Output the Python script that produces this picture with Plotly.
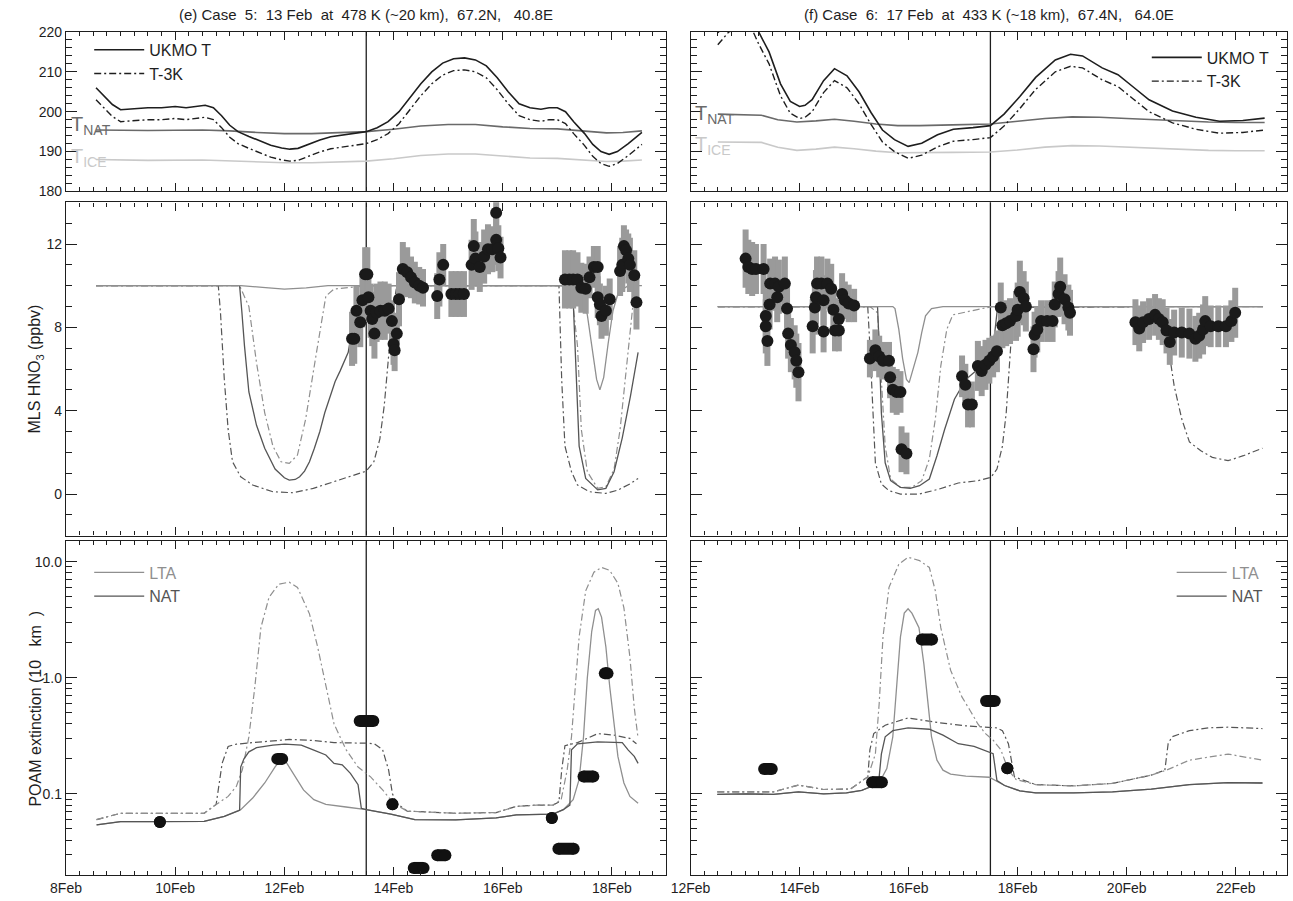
import plotly.graph_objects as go
from plotly.subplots import make_subplots

# ---------------- DATA ----------------
case_times = [13.5, 17.5]

# Case 5 temperatures (K)
t5_day = [8.55, 8.7, 8.85, 9.0, 9.25, 9.5, 9.75, 10.0, 10.2, 10.4, 10.55, 10.7, 10.85, 11.0, 11.15, 11.35,
          11.55, 11.75, 11.95, 12.1, 12.25, 12.45, 12.65, 12.85, 13.1, 13.3, 13.5, 13.7, 13.9, 14.1, 14.3,
          14.5, 14.7, 14.9, 15.1, 15.3, 15.5, 15.7, 15.9, 16.1, 16.3, 16.5, 16.7, 16.85, 17.0, 17.15, 17.3,
          17.5, 17.65, 17.8, 17.95, 18.1, 18.3, 18.55]
t5_ukmo = [206.0, 204.0, 201.8, 200.5, 200.8, 201.0, 201.0, 201.3, 201.0, 201.4, 201.6, 201.0, 199.0, 196.6,
           195.0, 193.8, 192.6, 191.6, 190.9, 190.6, 190.8, 191.8, 192.9, 193.7, 194.2, 194.5, 195.0, 196.0,
           197.5, 200.0, 203.5, 207.0, 210.0, 212.2, 213.3, 213.5, 213.0, 211.5, 208.5, 205.0, 202.0, 201.0,
           200.6, 201.0, 201.0, 200.0, 197.5, 194.5, 191.8, 190.0, 189.3, 190.0, 192.0, 194.8]
t5_m3k = [203.0, 201.0, 198.8, 197.5, 197.8, 198.0, 198.0, 198.3, 198.0, 198.4, 198.6, 198.0, 196.0, 193.6,
          192.0, 190.8, 189.6, 188.6, 187.9, 187.6, 187.8, 188.8, 189.9, 190.7, 191.2, 191.5, 192.0, 193.0,
          194.5, 197.0, 200.5, 204.0, 207.0, 209.2, 210.3, 210.5, 210.0, 208.5, 205.5, 202.0, 199.0, 198.0,
          197.6, 198.0, 198.0, 197.0, 194.5, 191.5, 188.8, 187.0, 186.3, 187.0, 189.0, 191.8]
tx5_day = [8.55, 9.5, 10.5, 11.0, 11.5, 12.0, 12.5, 13.0, 13.5, 14.0, 14.5, 15.0, 15.5, 16.0, 16.5, 17.0,
           17.5, 17.9, 18.2, 18.55]
tnat5 = [195.4, 195.3, 195.4, 195.2, 194.8, 194.5, 194.5, 194.7, 195.0, 195.6, 196.4, 196.8, 196.8, 196.2,
         195.8, 195.7, 195.2, 194.7, 194.8, 195.2]
tice5 = [188.0, 187.8, 187.9, 187.7, 187.4, 187.2, 187.2, 187.4, 187.6, 188.2, 189.0, 189.4, 189.4, 188.9,
         188.4, 188.3, 187.9, 187.5, 187.6, 187.9]

# Case 6 temperatures (K)
t6_day = [12.5, 12.7, 12.95, 13.15, 13.25, 13.44, 13.65, 13.83, 14.0, 14.1, 14.23, 14.44, 14.64, 14.87,
          15.09, 15.31, 15.52, 15.74, 15.99, 16.24, 16.53, 16.82, 17.18, 17.5, 17.75, 18.04, 18.33, 18.69,
          18.97, 19.19, 19.55, 19.84, 20.12, 20.41, 20.84, 21.27, 21.7, 22.13, 22.53]
t6_ukmo = [219.8, 223.0, 224.5, 223.0, 220.0, 215.0, 207.0, 202.6, 201.3, 201.6, 203.0, 207.8, 210.8, 209.0,
           205.0, 199.8, 195.4, 193.0, 191.3, 192.1, 194.2, 195.6, 196.0, 196.5, 199.4, 203.8, 208.6, 213.0,
           214.4, 214.0, 211.0, 209.3, 206.2, 203.0, 200.2, 198.6, 197.6, 197.8, 198.4]
t6_m3k = [216.8, 220.0, 221.5, 220.0, 217.0, 212.0, 204.0, 199.6, 198.3, 198.6, 200.0, 204.8, 207.8, 206.0,
          202.0, 196.8, 192.4, 190.0, 188.3, 189.1, 191.2, 192.6, 193.0, 193.5, 196.4, 200.8, 205.6, 210.0,
          211.4, 211.0, 208.0, 206.3, 203.2, 200.0, 197.2, 195.6, 194.6, 194.8, 195.4]
tx6_day = [12.5, 13.0, 13.3, 13.6, 13.95, 14.3, 14.64, 15.0, 15.4, 15.8, 16.2, 16.8, 17.5, 18.0, 18.5, 19.0,
           19.5, 20.0, 20.5, 21.0, 21.5, 22.0, 22.53]
tnat6 = [199.4, 199.3, 199.1, 198.0, 197.4, 197.7, 198.1, 197.6, 196.9, 196.5, 196.5, 196.7, 196.9, 197.6,
         198.3, 198.7, 198.6, 198.3, 198.0, 197.6, 197.4, 197.3, 197.3]
tice6 = [192.4, 192.4, 192.3, 191.1, 190.3, 190.6, 191.1, 190.7, 190.1, 189.7, 189.7, 189.8, 189.9, 190.4,
         191.1, 191.5, 191.4, 191.1, 190.8, 190.5, 190.3, 190.2, 190.2]

# Case 5 model gas-phase HNO3 (ppbv)
hl5_day = [8.55, 11.2, 11.6, 12.0, 12.4, 12.8, 17.3, 17.45, 17.55, 17.65, 17.72, 17.78, 17.85, 17.93, 18.02,
           18.12, 18.3, 18.55]
hl5 = [10.0, 10.0, 9.92, 9.84, 9.9, 10.0, 10.0, 9.6, 8.6, 6.8, 5.5, 5.0, 5.6, 7.2, 8.8, 9.7, 10.0, 10.0]
hn5_day = [8.55, 11.18, 11.22, 11.27, 11.35, 11.49, 11.64, 11.83, 12.0, 12.09, 12.2, 12.28, 12.37, 12.46,
           12.55, 12.65, 12.74, 12.83, 12.93, 13.02, 13.17, 13.24, 13.35, 13.49, 13.6, 17.28, 17.31, 17.35,
           17.4, 17.52, 17.74, 17.89, 18.04, 18.19, 18.34, 18.48]
hn5 = [10.0, 10.0, 8.8, 7.1, 4.9, 3.3, 2.2, 1.2, 0.78, 0.67, 0.7, 0.83, 1.1, 1.55, 2.2, 3.0, 3.9, 4.6, 5.4,
       5.9, 6.8, 7.9, 9.0, 9.8, 10.0, 10.0, 8.0, 5.5, 2.3, 0.75, 0.2, 0.27, 1.07, 2.7, 4.7, 6.8]
hl5m_day = [8.55, 11.18, 11.35, 11.49, 11.64, 11.79, 11.94, 12.09, 12.24, 12.39, 12.57, 12.76, 12.91, 13.28,
            13.5, 17.25, 17.37, 17.44, 17.55, 17.74, 17.89, 18.04, 18.15, 18.26, 18.35, 18.41, 18.45, 18.55]
hl5m = [10.0, 10.0, 9.0, 6.3, 3.9, 2.3, 1.55, 1.47, 1.87, 3.6, 6.5, 9.5, 9.84, 9.92, 10.0, 10.0, 7.1, 3.1,
        1.07, 0.27, 0.35, 1.2, 3.1, 5.9, 8.4, 9.7, 10.0, 10.0]
hn5m_day = [8.55, 10.79, 10.83, 10.9, 10.97, 11.05, 11.2, 11.42, 11.79, 12.16, 12.53, 12.91, 13.28, 13.5,
            13.64, 13.75, 13.83, 13.9, 13.98, 14.05, 14.1, 17.03, 17.08, 17.14, 17.26, 17.37, 17.59, 17.89,
            18.11, 18.34, 18.48]
hn5m = [10.0, 10.0, 8.7, 5.5, 3.1, 1.55, 0.83, 0.43, 0.11, 0.06, 0.27, 0.6, 0.9, 1.1, 1.55, 2.65, 4.25, 6.2,
        8.7, 9.84, 10.0, 10.0, 5.5, 2.3, 1.07, 0.43, 0.11, 0.03, 0.19, 0.5, 0.75]

# Case 6 model gas-phase HNO3 (ppbv)
hl6_day = [12.5, 15.71, 15.75, 15.82, 15.89, 15.96, 16.01, 16.06, 16.17, 16.24, 16.31, 16.42, 16.63, 22.5]
hl6 = [9.0, 9.0, 8.9, 7.9, 6.5, 5.5, 5.35, 5.8, 6.8, 7.75, 8.55, 8.9, 9.0, 9.0]
hn6_day = [12.5, 15.43, 15.46, 15.5, 15.57, 15.67, 15.85, 16.03, 16.2, 16.38, 16.52, 16.66, 16.84, 17.05,
           17.34, 17.51, 17.58, 17.62, 17.65, 22.5]
hn6 = [9.0, 9.0, 7.1, 3.9, 1.5, 0.64, 0.32, 0.27, 0.4, 0.72, 1.84, 3.1, 4.55, 5.5, 6.15, 6.8, 7.75, 8.7, 9.0,
       9.0]
hl6m_day = [12.5, 15.29, 15.43, 15.5, 15.57, 15.67, 15.85, 16.06, 16.24, 16.38, 16.49, 16.59, 16.7, 16.81,
            17.05, 17.34, 17.55, 22.5]
hl6m = [9.0, 9.0, 8.7, 5.5, 2.3, 0.72, 0.32, 0.32, 0.64, 1.68, 3.6, 6.15, 7.9, 8.6, 8.75, 8.9, 9.0, 9.0]
hn6m_day = [12.5, 15.25, 15.29, 15.34, 15.39, 15.5, 15.64, 15.85, 16.2, 16.56, 16.91, 17.27, 17.51, 17.62,
            17.72, 17.79, 17.85, 17.89, 17.92, 20.69, 20.76, 20.87, 21.01, 21.15, 21.36, 21.57, 21.86, 22.14,
            22.49]
hn6m = [9.0, 9.0, 7.1, 3.9, 1.5, 0.48, 0.16, 0.0, 0.0, 0.24, 0.53, 0.64, 0.8, 1.2, 2.3, 3.9, 6.3, 8.2, 8.95,
        9.0, 7.1, 5.2, 3.6, 2.5, 2.08, 1.76, 1.6, 1.84, 2.2]

# MLS HNO3 observations, case 5
mls5_day = [13.24, 13.28, 13.32, 13.39, 13.43, 13.48, 13.52, 13.54, 13.58, 13.61, 13.65, 13.69, 13.76, 13.84,
            13.91, 13.97, 14.0, 14.02, 14.06, 14.1, 14.17, 14.25, 14.32, 14.39, 14.47, 14.54, 14.8, 14.84,
            14.91, 15.06, 15.14, 15.21, 15.29, 15.43, 15.47, 15.5, 15.58, 15.66, 15.73, 15.81, 15.88, 15.88,
            15.92, 15.96, 17.14, 17.22, 17.29, 17.37, 17.44, 17.52, 17.59, 17.67, 17.74, 17.74, 17.78, 17.81,
            17.89, 17.96, 18.15, 18.19, 18.22, 18.26, 18.3, 18.33, 18.41, 18.45]
mls5 = [7.45, 7.45, 8.8, 8.25, 9.3, 10.55, 10.55, 9.45, 8.8, 8.4, 7.7, 8.7, 8.8, 8.8, 8.9, 8.3, 7.2, 6.9, 7.7,
        9.35, 10.8, 10.65, 10.4, 10.15, 10.0, 9.9, 9.5, 10.3, 11.0, 9.6, 9.6, 9.6, 9.6, 11.0, 11.9, 11.3, 10.9,
        11.4, 11.75, 11.75, 13.5, 12.2, 11.8, 11.35, 10.3, 10.3, 10.3, 10.3, 9.9, 9.85, 10.4, 10.9, 10.9, 9.45,
        9.1, 8.55, 8.8, 9.35, 10.7, 11.0, 11.9, 11.7, 11.3, 11.0, 10.5, 9.2]
mls5_err = [1.3, 1.2, 1.2, 1.2, 1.3, 1.3, 1.3, 1.2, 1.3, 1.3, 1.2, 1.4, 1.4, 1.4, 1.2, 1.0, 1.0, 1.0, 1.0,
            1.3, 1.3, 1.2, 1.0, 1.0, 0.9, 0.9, 1.1, 1.3, 1.0, 1.1, 1.1, 1.1, 1.1, 1.2, 1.3, 1.3, 1.2, 1.3,
            1.2, 1.1, 1.0, 1.2, 1.1, 1.0, 1.4, 1.4, 1.4, 1.3, 1.2, 1.2, 1.0, 1.0, 1.0, 1.0, 1.0, 1.1, 1.2,
            1.0, 1.2, 1.3, 1.0, 1.0, 1.2, 1.3, 1.2, 1.3]

# MLS HNO3 observations, case 6
mls6_day = [13.01, 13.06, 13.13, 13.2, 13.34, 13.38, 13.38, 13.41, 13.45, 13.46, 13.55, 13.59, 13.62, 13.73,
            13.77, 13.79, 13.84, 13.91, 13.94, 13.98, 14.24, 14.28, 14.3, 14.32, 14.4, 14.51, 14.44, 14.44,
            14.58, 14.62, 14.65, 14.72, 14.72, 14.78, 14.83, 14.9, 15.0, 15.29, 15.39, 15.46, 15.53, 15.64,
            15.66, 15.71, 15.78, 15.85, 15.87, 15.96, 16.98, 17.04, 17.09, 17.16, 17.27, 17.34, 17.41, 17.48,
            17.55, 17.62, 17.69, 17.72, 17.79, 17.86, 17.97, 18.0, 18.04, 18.11, 18.15, 18.29, 18.31, 18.36,
            18.43, 18.54, 18.64, 18.68, 18.75, 18.78, 18.86, 18.93, 18.96, 20.16, 20.23, 20.3, 20.41, 20.52,
            20.59, 20.66, 20.73, 20.79, 20.87, 21.01, 21.15, 21.26, 21.33, 21.4, 21.44, 21.54, 21.68, 21.82,
            21.92, 21.99]
mls6 = [11.3, 10.9, 10.8, 10.8, 10.8, 8.55, 8.05, 7.35, 9.1, 10.1, 10.1, 9.45, 9.95, 10.1, 8.9, 7.7, 7.15,
        6.8, 6.4, 5.85, 8.05, 8.95, 9.45, 10.1, 10.1, 10.1, 9.3, 7.8, 9.85, 8.85, 7.85, 7.85, 8.4, 9.6, 9.3,
        9.15, 9.05, 6.5, 6.9, 6.6, 6.4, 6.4, 5.6, 5.0, 4.9, 4.9, 2.15, 1.95, 5.65, 5.25, 4.3, 4.3, 6.15, 5.9,
        6.2, 6.4, 6.6, 6.85, 8.95, 8.1, 8.2, 8.3, 8.55, 8.85, 9.7, 9.4, 9.0, 6.95, 7.65, 7.9, 8.3, 8.3, 8.3,
        9.1, 9.6, 9.95, 9.35, 8.95, 8.7, 8.25, 7.95, 8.25, 8.4, 8.6, 8.4, 8.25, 7.85, 7.3, 7.75, 7.75, 7.7,
        7.45, 7.6, 7.9, 8.3, 8.05, 8.05, 8.05, 8.3, 8.7]
mls6_err = [1.4, 1.3, 1.3, 1.2, 1.2, 1.3, 1.3, 1.2, 1.2, 1.2, 1.3, 1.2, 1.3, 1.3, 1.2, 1.2, 1.3, 1.3, 1.3,
            1.4, 1.3, 1.3, 1.3, 1.3, 1.3, 1.2, 1.2, 1.0, 1.2, 1.2, 1.0, 1.0, 1.0, 1.0, 0.9, 0.9, 0.8, 0.9,
            1.0, 1.0, 0.9, 0.9, 1.0, 1.1, 1.1, 1.0, 1.1, 1.0, 1.0, 1.0, 1.1, 1.1, 1.2, 1.2, 1.2, 1.1, 1.0,
            1.0, 1.2, 1.1, 1.1, 1.1, 1.2, 1.3, 1.5, 1.3, 1.2, 1.1, 1.1, 1.1, 1.0, 1.0, 1.0, 1.1, 1.1, 1.4,
            1.2, 1.1, 1.1, 1.1, 1.1, 1.0, 1.0, 1.0, 1.0, 1.1, 1.1, 1.1, 1.1, 1.2, 1.2, 1.1, 1.1, 1.2, 1.2,
            1.0, 1.0, 1.0, 1.0, 1.2]

# Case 5 model extinction
el5_day = [8.56, 9.0, 9.5, 10.0, 10.53, 10.9, 11.2, 11.42, 11.64, 11.83, 11.94, 12.01, 12.16, 12.35, 12.54,
           12.76, 13.13, 13.5, 13.95, 14.39, 15.14, 15.88, 16.25, 16.62, 16.92, 17.11, 17.29, 17.4, 17.48,
           17.55, 17.63, 17.7, 17.75, 17.81, 17.89, 17.96, 18.04, 18.11, 18.22, 18.33, 18.48]
el5 = [0.054, 0.0576, 0.0576, 0.0578, 0.058, 0.064, 0.073, 0.092, 0.124, 0.171, 0.198, 0.195, 0.15, 0.108,
       0.089, 0.081, 0.077, 0.073, 0.067, 0.06, 0.0597, 0.062, 0.066, 0.067, 0.067, 0.073, 0.089, 0.133, 0.31,
       1.0, 2.5, 3.8, 3.93, 3.33, 1.84, 0.84, 0.38, 0.21, 0.124, 0.095, 0.083]
en5_day = [8.56, 9.0, 9.5, 10.0, 10.53, 10.9, 11.18, 11.2, 11.26, 11.35, 11.49, 11.64, 11.79, 12.01, 12.31,
           12.54, 12.76, 12.91, 13.06, 13.21, 13.35, 13.41, 13.5, 13.95, 14.39, 15.14, 15.88, 16.25, 16.62,
           16.92, 17.11, 17.23, 17.26, 17.37, 17.74, 18.19, 18.3, 18.41, 18.48]
en5 = [0.054, 0.0576, 0.0576, 0.0578, 0.058, 0.064, 0.072, 0.17, 0.2, 0.23, 0.25, 0.256, 0.263, 0.268, 0.263,
       0.238, 0.216, 0.183, 0.178, 0.15, 0.12, 0.075, 0.073, 0.067, 0.06, 0.0597, 0.062, 0.066, 0.067, 0.067,
       0.073, 0.08, 0.24, 0.27, 0.28, 0.276, 0.238, 0.21, 0.183]
el5m_day = [8.56, 9.0, 9.5, 10.0, 10.53, 10.75, 10.97, 11.12, 11.23, 11.35, 11.46, 11.57, 11.72, 11.9, 12.09,
            12.24, 12.46, 12.61, 12.76, 12.91, 13.13, 13.35, 13.58, 13.8, 14.0, 14.25, 15.14, 15.88, 16.25,
            16.62, 16.92, 17.07, 17.18, 17.26, 17.33, 17.4, 17.52, 17.67, 17.81, 17.96, 18.11, 18.22, 18.33,
            18.41, 18.48]
el5m = [0.06, 0.068, 0.068, 0.068, 0.068, 0.081, 0.095, 0.116, 0.161, 0.31, 0.84, 2.7, 4.94, 6.4, 6.65, 6.0,
        3.55, 1.84, 0.84, 0.4, 0.24, 0.17, 0.14, 0.108, 0.083, 0.071, 0.068, 0.069, 0.078, 0.08, 0.08, 0.089,
        0.16, 0.31, 0.84, 2.25, 5.6, 8.1, 8.9, 8.4, 6.5, 4.0, 1.5, 0.55, 0.3]
en5m_day = [8.56, 9.0, 9.5, 10.0, 10.53, 10.75, 10.79, 10.86, 10.97, 11.12, 11.42, 11.79, 12.09, 12.54, 12.91,
            13.5, 13.65, 13.8, 13.91, 13.98, 14.06, 14.25, 15.14, 15.88, 16.25, 16.62, 16.92, 17.03, 17.08,
            17.14, 17.37, 17.74, 18.04, 18.33, 18.45]
en5m = [0.06, 0.068, 0.068, 0.068, 0.068, 0.081, 0.108, 0.183, 0.256, 0.268, 0.276, 0.288, 0.294, 0.288,
        0.276, 0.273, 0.27, 0.24, 0.16, 0.1, 0.083, 0.071, 0.068, 0.069, 0.078, 0.08, 0.08, 0.085, 0.16, 0.26,
        0.276, 0.33, 0.32, 0.3, 0.27]

# Case 6 model extinction
el6_day = [12.49, 13.02, 13.52, 13.98, 14.44, 14.86, 15.14, 15.36, 15.5, 15.6, 15.71, 15.78, 15.85, 15.92,
           15.99, 16.06, 16.19, 16.28, 16.35, 16.42, 16.52, 16.63, 16.77, 17.05, 17.48, 17.76, 18.04, 18.33,
           19.03, 19.74, 20.45, 21.15, 21.86, 22.49]
el6 = [0.0988, 0.1, 0.0988, 0.104, 0.1, 0.102, 0.107, 0.118, 0.135, 0.165, 0.31, 0.84, 2.25, 3.6, 3.93, 3.6,
       2.7, 1.31, 0.6, 0.31, 0.195, 0.16, 0.148, 0.142, 0.139, 0.118, 0.106, 0.102, 0.102, 0.104, 0.11, 0.12,
       0.125, 0.124]
en6_day = [12.49, 13.02, 13.52, 13.98, 14.44, 14.86, 15.14, 15.36, 15.45, 15.5, 15.57, 15.71, 15.99, 16.38,
           16.63, 16.91, 17.2, 17.48, 17.55, 17.62, 17.76, 18.04, 18.33, 19.03, 19.74, 20.45, 21.15, 21.86,
           22.49]
en6 = [0.0988, 0.1, 0.0988, 0.104, 0.1, 0.102, 0.107, 0.118, 0.125, 0.22, 0.31, 0.35, 0.37, 0.36, 0.32, 0.27,
       0.256, 0.23, 0.222, 0.13, 0.118, 0.106, 0.102, 0.102, 0.104, 0.11, 0.12, 0.125, 0.124]
el6m_day = [12.49, 13.02, 13.52, 13.98, 14.44, 14.93, 15.25, 15.39, 15.46, 15.53, 15.64, 15.82, 15.99, 16.2,
            16.38, 16.49, 16.59, 16.77, 16.98, 17.13, 17.27, 17.41, 17.55, 17.69, 17.83, 17.97, 18.33, 19.03,
            19.74, 20.45, 20.73, 21.15, 21.86, 22.49]
el6m = [0.104, 0.104, 0.104, 0.119, 0.109, 0.11, 0.14, 0.22, 0.6, 2.25, 6.0, 9.5, 10.9, 10.2, 8.9, 5.6, 2.7,
        1.16, 0.68, 0.52, 0.4, 0.33, 0.29, 0.24, 0.16, 0.133, 0.12, 0.117, 0.123, 0.145, 0.16, 0.195, 0.22,
        0.195]
en6m_day = [12.49, 13.02, 13.52, 13.98, 14.44, 14.93, 15.25, 15.29, 15.36, 15.57, 15.99, 16.56, 17.05, 17.62,
            17.72, 17.83, 17.9, 17.94, 18.33, 19.03, 19.74, 20.45, 20.7, 20.76, 20.83, 21.15, 21.5, 21.86,
            22.49]
en6m = [0.104, 0.104, 0.104, 0.119, 0.109, 0.11, 0.14, 0.24, 0.33, 0.39, 0.45, 0.41, 0.385, 0.37, 0.35, 0.27,
        0.18, 0.14, 0.12, 0.117, 0.123, 0.145, 0.16, 0.27, 0.31, 0.35, 0.37, 0.375, 0.365]

# POAM observations: start day, end day, extinction
poam5_start = [9.72, 11.87, 13.38, 13.98, 14.37, 14.80, 16.90, 17.02, 17.48, 17.87]
poam5_end = [9.72, 11.96, 13.63, 13.98, 14.55, 14.95, 16.90, 17.30, 17.66, 17.92]
poam5_val = [0.0572, 0.2, 0.424, 0.0815, 0.023, 0.0296, 0.0618, 0.0337, 0.141, 1.09]
poam6_start = [13.35, 15.33, 16.24, 17.42, 17.81]
poam6_end = [13.49, 15.51, 16.43, 17.58, 17.81]
poam6_val = [0.164, 0.126, 2.13, 0.63, 0.166]

# Axis extents (days of February) and tick label suffix
x_range = {1: [8, 19], 2: [12, 22.94]}
tick_suffix = "Feb"

titles = ["(e) Case  5:  13 Feb  at  478 K (~20 km),  67.2N,   40.8E",
          "(f) Case  6:  17 Feb  at  433 K (~18 km),  67.4N,   64.0E"]

# ---------------- FIGURE ----------------
FONT = "Liberation Sans, Arial, Helvetica, sans-serif"
BLACK = "#1e1e1e"
C_LTA = "#8f8f8f"
C_NAT = "#555555"
C_TNAT = "#6a6a6a"
C_TICE = "#c9c9c9"
DASHDOT = "7px,3px,2px,3px"

fig = make_subplots(rows=3, cols=2)


def line(x, y, row, col, color, dash="solid", width=1.3, name=None, legend=None, show=False):
    fig.add_trace(go.Scatter(x=x, y=y, mode="lines", name=name, showlegend=show,
                             legend=legend, line=dict(color=color, width=width, dash=dash),
                             hoverinfo="skip"), row=row, col=col)


# Top row: temperatures
line(tx5_day, tice5, 1, 1, C_TICE, width=1.6)
line(tx5_day, tnat5, 1, 1, C_TNAT, width=1.6)
line(t5_day, t5_ukmo, 1, 1, BLACK, width=1.6, name="UKMO T", legend="legend", show=True)
line(t5_day, t5_m3k, 1, 1, BLACK, dash=DASHDOT, width=1.4, name="T-3K", legend="legend", show=True)
line(tx6_day, tice6, 1, 2, C_TICE, width=1.6)
line(tx6_day, tnat6, 1, 2, C_TNAT, width=1.6)
line(t6_day, t6_ukmo, 1, 2, BLACK, width=1.6, name="UKMO T", legend="legend2", show=True)
line(t6_day, t6_m3k, 1, 2, BLACK, dash=DASHDOT, width=1.4, name="T-3K", legend="legend2", show=True)

# Middle row: HNO3
line(hn5m_day, hn5m, 2, 1, C_NAT, dash=DASHDOT, width=1.2)
line(hl5m_day, hl5m, 2, 1, C_LTA, dash=DASHDOT, width=1.2)
line(hn5_day, hn5, 2, 1, C_NAT, width=1.3)
line(hl5_day, hl5, 2, 1, C_LTA, width=1.3)
line(hn6m_day, hn6m, 2, 2, C_NAT, dash=DASHDOT, width=1.2)
line(hl6m_day, hl6m, 2, 2, C_LTA, dash=DASHDOT, width=1.2)
line(hn6_day, hn6, 2, 2, C_NAT, width=1.3)
line(hl6_day, hl6, 2, 2, C_LTA, width=1.3)

for dd, vv, ee, col in [(mls5_day, mls5, mls5_err, 1), (mls6_day, mls6, mls6_err, 2)]:
    fig.add_trace(go.Scatter(x=dd, y=vv, mode="markers", showlegend=False, hoverinfo="skip",
                             marker=dict(color="#1a1a1a", size=12),
                             error_y=dict(type="data", array=ee, color="#9a9a9a", thickness=6, width=0)),
                  row=2, col=col)

# Bottom row: extinction
line(en5m_day, en5m, 3, 1, C_NAT, dash=DASHDOT, width=1.2)
line(el5m_day, el5m, 3, 1, C_LTA, dash=DASHDOT, width=1.2)
line(el5_day, el5, 3, 1, C_LTA, width=1.3, name="<span style='color:#8f8f8f'>LTA</span>",
     legend="legend3", show=True)
line(en5_day, en5, 3, 1, C_NAT, width=1.3, name="<span style='color:#555555'>NAT</span>",
     legend="legend3", show=True)
line(en6m_day, en6m, 3, 2, C_NAT, dash=DASHDOT, width=1.2)
line(el6m_day, el6m, 3, 2, C_LTA, dash=DASHDOT, width=1.2)
line(el6_day, el6, 3, 2, C_LTA, width=1.3, name="<span style='color:#8f8f8f'>LTA</span>",
     legend="legend4", show=True)
line(en6_day, en6, 3, 2, C_NAT, width=1.3, name="<span style='color:#555555'>NAT</span>",
     legend="legend4", show=True)

for starts, ends, vals, col in [(poam5_start, poam5_end, poam5_val, 1), (poam6_start, poam6_end, poam6_val, 2)]:
    xs, ys = [], []
    for s, e, v in zip(starts, ends, vals):
        xs += [s, e, None]
        ys += [v, v, None]
    fig.add_trace(go.Scatter(x=xs, y=ys, mode="lines+markers", showlegend=False, hoverinfo="skip",
                             line=dict(color="#111111", width=12),
                             marker=dict(color="#111111", size=12)), row=3, col=col)

# Case-time vertical lines
for col, t in zip([1, 2], case_times):
    for row in [1, 2, 3]:
        fig.add_vline(x=t, line_color=BLACK, line_width=1.3, layer="below", row=row, col=col)

# ---------------- AXES ----------------
xdom = {1: [0.0, 0.4918], 2: [0.5115, 1.0]}
ydom = {1: [0.8109, 1.0], 2: [0.4025, 0.7979], 3: [0.0, 0.396]}

axis_common = dict(showline=True, linecolor=BLACK, linewidth=1.4, mirror="ticks", ticks="inside",
                   tickcolor=BLACK, showgrid=False, zeroline=False,
                   tickfont=dict(family=FONT, size=14, color=BLACK))

for row in [1, 2, 3]:
    for col in [1, 2]:
        rng = x_range[col]
        fig.update_xaxes(axis_common, domain=xdom[col], range=rng, tickmode="linear", tick0=rng[0], dtick=2,
                         ticksuffix=tick_suffix, ticklen=8, tickwidth=1.2,
                         showticklabels=(row == 3),
                         minor=dict(ticks="inside", dtick=0.25, tick0=rng[0], ticklen=4, tickcolor=BLACK,
                                    tickwidth=1, showgrid=False),
                         row=row, col=col)
        if row == 1:
            fig.update_yaxes(axis_common, domain=ydom[1], range=[180, 220], tickmode="linear",
                             tick0=180, dtick=10, ticklen=11, tickwidth=1.2,
                             showticklabels=(col == 1),
                             minor=dict(ticks="inside", dtick=2, tick0=180, ticklen=6, tickcolor=BLACK,
                                        tickwidth=1, showgrid=False),
                             row=row, col=col)
        elif row == 2:
            fig.update_yaxes(axis_common, domain=ydom[2], range=[-2, 14], tickmode="linear",
                             tick0=0, dtick=4, ticklen=11, tickwidth=1.2,
                             showticklabels=(col == 1),
                             minor=dict(ticks="inside", dtick=1, tick0=0, ticklen=6, tickcolor=BLACK,
                                        tickwidth=1, showgrid=False),
                             row=row, col=col)
        else:
            minor_vals = [m * 10 ** p for p in [-2, -1, 0] for m in range(2, 10)]
            fig.update_yaxes(axis_common, domain=ydom[3], type="log", range=[-1.699, 1.176],
                             tickmode="array", tickvals=[0.1, 1, 10], ticktext=["0.1", "1.0", "10.0"],
                             ticklen=11, tickwidth=1.2, showticklabels=(col == 1),
                             minor=dict(ticks="inside", tickmode="array", tickvals=minor_vals, ticklen=6,
                                        tickcolor=BLACK, tickwidth=1, showgrid=False),
                             row=row, col=col)

# ---------------- ANNOTATIONS ----------------
ann = []
for i, t in enumerate(titles):
    cx = (xdom[i + 1][0] + xdom[i + 1][1]) / 2
    ann.append(dict(text=t, x=cx, y=1.021, xref="paper", yref="paper", xanchor="center", yanchor="middle",
                    showarrow=False, font=dict(family=FONT, size=15, color=BLACK)))
ann.append(dict(text="MLS HNO<sub>3</sub> (ppbv)", x=-0.025, y=sum(ydom[2]) / 2, xref="paper", yref="paper",
                textangle=-90, showarrow=False, xanchor="center", yanchor="middle",
                font=dict(family=FONT, size=16, color=BLACK)))
ann.append(dict(text="POAM extinction (10   km  )", x=-0.025, y=sum(ydom[3]) / 2, xref="paper",
                yref="paper", textangle=-90, showarrow=False, xanchor="center", yanchor="middle",
                font=dict(family=FONT, size=16, color=BLACK)))
# T_NAT / T_ICE labels
for xr, yr, x0, ynat, yice in [("x", "y", 8.05, 196.6, 188.4), ("x2", "y2", 12.04, 199.4, 191.5)]:
    ann.append(dict(text="T<sub>NAT</sub>", x=x0, y=ynat, xref=xr, yref=yr, xanchor="left",
                    yanchor="middle", showarrow=False, font=dict(family=FONT, size=20, color=C_TNAT)))
    ann.append(dict(text="T<sub>ICE</sub>", x=x0, y=yice, xref=xr, yref=yr, xanchor="left",
                    yanchor="middle", showarrow=False, font=dict(family=FONT, size=20, color=C_TICE)))

legend_common = dict(bgcolor="rgba(0,0,0,0)", borderwidth=0, tracegroupgap=0, itemwidth=50,
                     font=dict(family=FONT, size=16, color=BLACK))
fig.update_layout(
    width=1293, height=901,
    margin=dict(l=66, r=5, t=32, b=23),
    paper_bgcolor="white", plot_bgcolor="white",
    annotations=ann,
    legend=dict(legend_common, x=0.019, y=0.999, xanchor="left", yanchor="top"),
    legend2=dict(legend_common, x=0.99, y=0.99, xanchor="right", yanchor="top"),
    legend3=dict(legend_common, x=0.019, y=0.379, xanchor="left", yanchor="top"),
    legend4=dict(legend_common, x=0.985, y=0.379, xanchor="right", yanchor="top"),
    font=dict(family=FONT, color=BLACK),
)

fig.write_html("out.html")
